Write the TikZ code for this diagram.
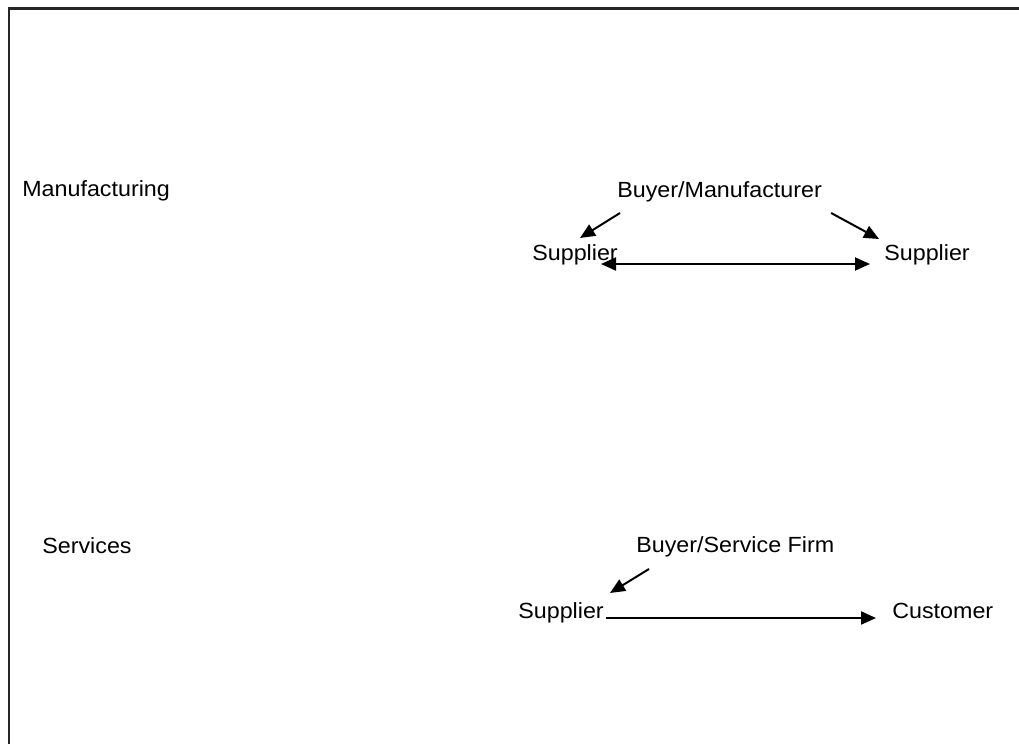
\documentclass[tikz,border=0pt]{standalone}
\usepackage{fontspec}
\setmainfont{Liberation Sans}
\usetikzlibrary{arrows.meta}

% labels are set a little wider than the font gives
\newcommand{\widelbl}[1]{\scalebox{1.06}[1]{#1}}

\begin{document}
\begin{tikzpicture}[x=0.02cm,y=-0.02cm,
    lbl/.style={font=\fontsize{12.5pt}{14pt}\selectfont, inner sep=0pt, anchor=base west},
    arr/.style={line width=0.04cm, -{Triangle[length=0.3cm,width=0.26cm]}},
    dblarr/.style={line width=0.04cm, {Triangle[length=0.3cm,width=0.26cm]}-{Triangle[length=0.3cm,width=0.26cm]}}]
                    \useasboundingbox (0,0) rectangle (1019,744);

                    % Frame along top and left
                    \draw [line width=0.06cm, black!85] (1019,8) -- (9,8) -- (9,744);%

                    % Manufacturing row
                    \node [lbl] (manu) at (22,196) {\widelbl{Manufacturing}};%
                    \node [lbl] (buyerM) at (617,197) {\widelbl{Buyer/Manufacturer}};%
                    \node [lbl] (supA) at (532,260) {\widelbl{Supplier}};%
                    \node [lbl] (supB) at (884,260) {\widelbl{Supplier}};%

                    % Drawing arrows from buyer to both suppliers
                    \draw [arr] ([shift={(3,16)}]buyerM.base west) -- ([shift={(48,-22)}]supA.base west);%
                    \draw [arr] ([shift={(9,16)}]buyerM.base east) -- ([shift={(-5,-21)}]supB.base west);%

                    % Drawing link between the suppliers
                    \draw [dblarr] ([shift={(69,4)}]supA.base west) -- ([shift={(-14,4)}]supB.base west);%

                    % Services row
                    \node [lbl] (serv) at (42,553) {\widelbl{Services}};%
                    \node [lbl] (buyerS) at (636,552) {\widelbl{Buyer/Service Firm}};%
                    \node [lbl] (supC) at (518,618) {\widelbl{Supplier}};%
                    \node [lbl] (cust) at (892,618) {\widelbl{Customer}};%

                    % Drawing arrow from buyer to supplier
                    \draw [arr] ([shift={(13,17)}]buyerS.base west) -- ([shift={(92,-25)}]supC.base west);%

                    % Drawing arrow from supplier to customer
                    \draw [arr] ([shift={(2,0)}]supC.base east) -- ([shift={(-16,0)}]cust.base west);%
\end{tikzpicture}
\end{document}
